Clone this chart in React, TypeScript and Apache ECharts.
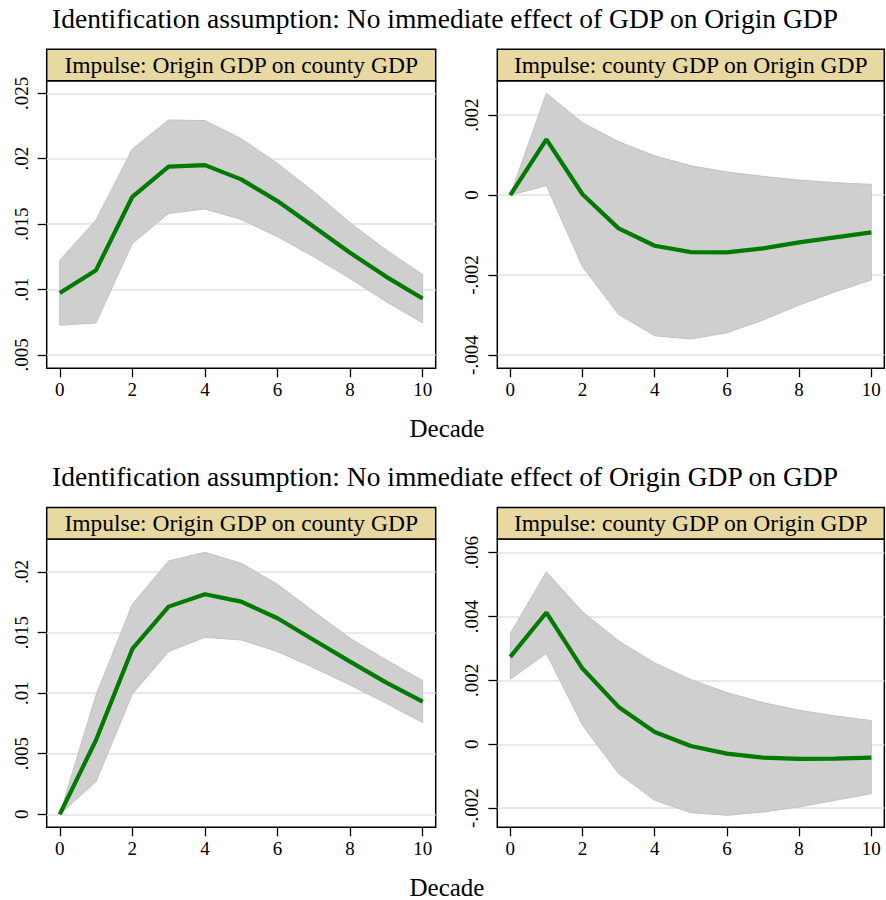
import React, { useEffect, useRef } from 'react';
import * as echarts from 'echarts';

const decades = [0, 1, 2, 3, 4, 5, 6, 7, 8, 9, 10];
const xTicks = [0, 2, 4, 6, 8, 10];

const titleTop = 'Identification assumption: No immediate effect of GDP on Origin GDP';
const titleBottom = 'Identification assumption: No immediate effect of Origin GDP on GDP';
const headerLeft = 'Impulse: Origin GDP on county GDP';
const headerRight = 'Impulse: county GDP on Origin GDP';
const xAxisName = 'Decade';

const p1Irf = [0.00974, 0.01148, 0.01709, 0.01939, 0.01951, 0.01842, 0.01676, 0.0148, 0.01281, 0.01097, 0.00931];
const p1Upper = [0.01224, 0.01531, 0.02074, 0.02296, 0.02291, 0.02153, 0.01964, 0.01747, 0.0151, 0.01301, 0.01115];
const p1Lower = [0.00727, 0.00745, 0.01352, 0.01582, 0.01615, 0.01536, 0.01403, 0.0125, 0.01084, 0.00906, 0.00745];
const p1YTicks = [0.005, 0.01, 0.015, 0.02, 0.025];

const p2Irf = [0, 0.001392, 0.00002, -0.000833, -0.001267, -0.001425, -0.001433, -0.001333, -0.001183, -0.001058, -0.000933];
const p2Upper = [0, 0.002542, 0.001808, 0.001333, 0.000983, 0.000733, 0.000575, 0.000467, 0.000375, 0.000308, 0.000267];
const p2Lower = [0, 0.000233, -0.001792, -0.002983, -0.003517, -0.0036, -0.003442, -0.003125, -0.00275, -0.002417, -0.002125];
const p2YTicks = [-0.004, -0.002, 0, 0.002];

const p3Irf = [0, 0.00613, 0.01365, 0.01714, 0.01816, 0.01755, 0.01618, 0.01439, 0.0126, 0.01087, 0.0093];
const p3Upper = [0, 0.00985, 0.01733, 0.02091, 0.02162, 0.02072, 0.01898, 0.01673, 0.01453, 0.01274, 0.01103];
const p3Lower = [0, 0.0027, 0.00993, 0.01343, 0.01461, 0.01439, 0.01343, 0.0121, 0.01067, 0.00916, 0.00757];
const p3YTicks = [0, 0.005, 0.01, 0.015, 0.02];

const p4Irf = [0.002736, 0.004125, 0.002371, 0.00117, 0.000386, -0.000052, -0.000292, -0.000418, -0.00046, -0.00045, -0.000418];
const p4Upper = [0.003467, 0.0054, 0.004146, 0.003238, 0.002548, 0.002026, 0.001619, 0.001305, 0.001065, 0.000888, 0.000742];
const p4Lower = [0.002037, 0.002841, 0.000595, -0.000919, -0.001755, -0.002141, -0.002225, -0.00212, -0.001963, -0.001755, -0.001546];
const p4YTicks = [-0.002, 0, 0.002, 0.004, 0.006];

const FONT = '"Liberation Serif", "Times New Roman", serif';
const GREEN = '#007a00';
const BAND = '#cfcfcf';
const BAND_EDGE = '#c2c2c2';
const STRIP = '#e8d9a3';

const fmt = (v: number) => {
  const n = Number(v.toFixed(4));
  if (n === 0) return '0';
  return String(n).replace(/^(-?)0\./, '$1.');
};

type Panel = {
  irf: number[]; upper: number[]; lower: number[]; yTicks: number[];
  yMin: number; yMax: number;
  left: number; top: number; width: number; height: number;
  header: string;
};

const panels: Panel[] = [
  { irf: p1Irf, upper: p1Upper, lower: p1Lower, yTicks: p1YTicks, yMin: 0.00398, yMax: 0.02596, left: 46.7, top: 80.7, width: 389, height: 287.6, header: headerLeft },
  { irf: p2Irf, upper: p2Upper, lower: p2Lower, yTicks: p2YTicks, yMin: -0.00433, yMax: 0.002858, left: 497.3, top: 80.7, width: 387, height: 287.6, header: headerRight },
  { irf: p3Irf, upper: p3Upper, lower: p3Lower, yTicks: p3YTicks, yMin: -0.00107, yMax: 0.02272, left: 46.7, top: 539, width: 389, height: 288.3, header: headerLeft },
  { irf: p4Irf, upper: p4Upper, lower: p4Lower, yTicks: p4YTicks, yMin: -0.0026, yMax: 0.006428, left: 497.3, top: 539, width: 387, height: 288.3, header: headerRight },
];

export default function App() {
  const ref = useRef<HTMLDivElement>(null);
  useEffect(() => {
    if (!ref.current) return;
    const chart = echarts.init(ref.current, null, { renderer: 'svg' });
    const grids: any[] = [];
    const xAxes: any[] = [];
    const yAxes: any[] = [];
    const series: any[] = [];
    const graphic: any[] = [];
    panels.forEach((p, i) => {
      grids.push({
        left: p.left, top: p.top, width: p.width, height: p.height,
        show: true, borderColor: '#000', borderWidth: 1.5, backgroundColor: '#fff',
        containLabel: false,
      });
      xAxes.push({
        type: 'value', gridIndex: i, min: -0.36, max: 10.36, position: 'bottom',
        axisLine: { show: false, onZero: false },
        axisTick: { show: true, length: 9, lineStyle: { color: '#000', width: 1.3 }, customValues: xTicks },
        axisLabel: { customValues: xTicks, fontFamily: FONT, fontSize: 19, color: '#000', margin: 12 },
        splitLine: { show: false },
      });
      yAxes.push({
        type: 'value', gridIndex: i, min: p.yMin, max: p.yMax, position: 'left',
        axisLine: { show: false, onZero: false },
        axisTick: { show: true, length: 9, lineStyle: { color: '#000', width: 1.3 }, customValues: p.yTicks },
        axisLabel: { customValues: p.yTicks, rotate: 90, fontFamily: FONT, fontSize: 19, color: '#000', margin: 16, formatter: (v: number) => fmt(v) },
        splitLine: { show: true, lineStyle: { color: '#e2e2e2', width: 1.5 } },
      });
      const bandData = decades.map((d, j) => [d, p.lower[j], p.upper[j]]);
      series.push({
        type: 'custom', xAxisIndex: i, yAxisIndex: i, z: 1,
        data: bandData,
        encode: { x: 0, y: [1, 2] },
        renderItem: (params: any, api: any) => {
          if (params.dataIndex !== 0) return null;
          const top = bandData.map((r) => api.coord([r[0], r[2]]));
          const bottom = bandData.map((r) => api.coord([r[0], r[1]])).reverse();
          return {
            type: 'polygon',
            shape: { points: top.concat(bottom) },
            style: { fill: BAND, stroke: BAND_EDGE, lineWidth: 1 },
          };
        },
      });
      series.push({
        type: 'line', xAxisIndex: i, yAxisIndex: i,
        data: decades.map((d, j) => [d, p.irf[j]]),
        symbol: 'none', lineStyle: { color: GREEN, width: 4.2 }, z: 3,
      });
      graphic.push({
        type: 'rect', z: 10,
        shape: { x: p.left, y: p.top - 31.4, width: p.width, height: 31.4 },
        style: { fill: STRIP, stroke: '#000', lineWidth: 1.5 },
      });
      graphic.push({
        type: 'text', z: 11, x: p.left + p.width / 2, y: p.top - 15.7,
        style: { text: p.header, fontFamily: FONT, fontSize: 23.5, fill: '#000', align: 'center', verticalAlign: 'middle' },
      });
    });
    graphic.push({
      type: 'text', x: 445, y: 18,
      style: { text: titleTop, fontFamily: FONT, fontSize: 27.5, fill: '#000', align: 'center', verticalAlign: 'middle' },
    });
    graphic.push({
      type: 'text', x: 445, y: 476,
      style: { text: titleBottom, fontFamily: FONT, fontSize: 27.5, fill: '#000', align: 'center', verticalAlign: 'middle' },
    });
    graphic.push({
      type: 'text', x: 447, y: 428,
      style: { text: xAxisName, fontFamily: FONT, fontSize: 25, fill: '#000', align: 'center', verticalAlign: 'middle' },
    });
    graphic.push({
      type: 'text', x: 447, y: 887,
      style: { text: xAxisName, fontFamily: FONT, fontSize: 25, fill: '#000', align: 'center', verticalAlign: 'middle' },
    });
    chart.setOption({
      animation: false,
      backgroundColor: '#fff',
      grid: grids,
      xAxis: xAxes,
      yAxis: yAxes,
      series,
      graphic,
    });
    return () => chart.dispose();
  }, []);
  return <div ref={ref} style={{ position: 'absolute', left: 0, top: 0, width: 886, height: 900 }} />;
}
